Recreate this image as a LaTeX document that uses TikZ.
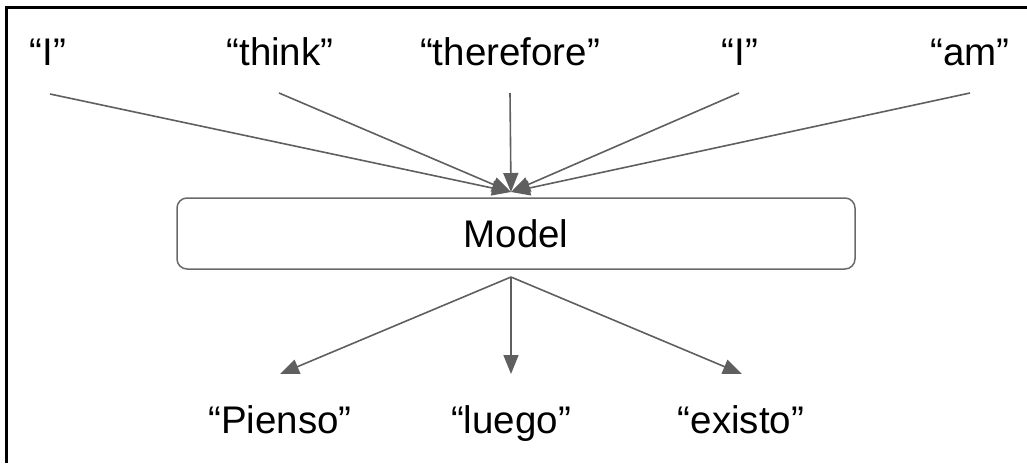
\documentclass[tikz,border=0pt]{standalone}
\usepackage{fontspec}
\setmainfont{Liberation Sans}
\usetikzlibrary{arrows.meta}
\definecolor{linegray}{HTML}{5F5F5F}
\definecolor{boxgray}{HTML}{6A6A6A}
\begin{document}
\begin{tikzpicture}[x=1pt,y=-1pt,
  lbl/.style={anchor=base,inner sep=0pt,font=\fontsize{38.5}{44}\selectfont},
  conn/.style={draw=linegray,line width=1.6pt,-{Triangle[length=19pt,width=15pt]}},
  modelbox/.style={draw=boxgray,line width=1.5pt,rounded corners=10pt,
    minimum width=678pt,minimum height=71pt,inner sep=0pt,
    font=\fontsize{38.5}{44}\selectfont}]
\useasboundingbox (0,0) rectangle (1027,463);
% frame (left and top edges only)
\draw[line width=3pt,black] (6.5,463) -- (6.5,7.5) -- (1027,7.5);
% top labels
\node[lbl] (w1) at (48,65) {“I”};
\node[lbl] (w2) at (280,65) {“think”};
\node[lbl] (w3) at (510,65) {“therefore”};
\node[lbl] (w4) at (740,65) {“I”};
\node[lbl] (w5) at (970,65) {“am”};
% model
\node[modelbox] (model) at (516,233.5) {Model};
% bottom labels
\node[lbl] (o1) at (280,433) {“Pienso”};
\node[lbl] (o2) at (511,433) {“luego”};
\node[lbl] (o3) at (741,433) {“existo”};
% connector ends
\coordinate (s1) at (50,94);
\coordinate (s2) at (279,93);
\coordinate (s3) at (510,93);
\coordinate (s4) at (739,93);
\coordinate (s5) at (970,93);
\coordinate (in) at (511,192);
\coordinate (out) at (511,277);
\coordinate (e1) at (280,374);
\coordinate (e2) at (511,374);
\coordinate (e3) at (742,374);
\draw[conn] (s1) -- (in);
\draw[conn] (s2) -- (in);
\draw[conn] (s3) -- (in);
\draw[conn] (s4) -- (in);
\draw[conn] (s5) -- (in);
\draw[conn] (out) -- (e1);
\draw[conn] (out) -- (e2);
\draw[conn] (out) -- (e3);
\end{tikzpicture}
\end{document}
